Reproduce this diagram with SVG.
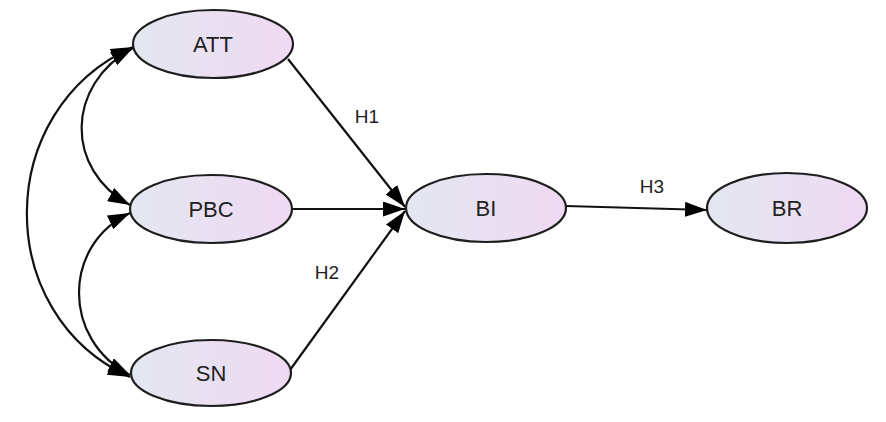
<svg xmlns="http://www.w3.org/2000/svg" width="886" height="422" viewBox="0 0 886 422">
<style>
.node ellipse{fill:url(#g);stroke:#1e1e1e;stroke-width:2.2}
.node text{font-family:"Liberation Sans",Arial,sans-serif;font-size:22px;fill:#222;text-anchor:middle;dominant-baseline:central}
.edges path{fill:none;stroke:#111;stroke-width:2.2}
.lbl{font-family:"Liberation Sans",Arial,sans-serif;font-size:19px;fill:#222;text-anchor:middle;dominant-baseline:central}
</style>
<defs>
<linearGradient id="g" x1="0" y1="0" x2="1" y2="0">
<stop offset="0" stop-color="#e3e7f0"/>
<stop offset="1" stop-color="#efd9f3"/>
</linearGradient>
<marker id="ah" viewBox="0 0 22 15" refX="22" refY="7.5" markerWidth="22" markerHeight="15" markerUnits="userSpaceOnUse" orient="auto-start-reverse">
<path d="M0,0 L22,7.5 L0,15 z" fill="#000"/>
</marker>
</defs>
<rect width="886" height="422" fill="#fff"/>
<g class="edges">
<path d="M288,59 L405,207" marker-end="url(#ah)"/>
<path d="M292,209 L405,209" marker-end="url(#ah)"/>
<path d="M290,370 L405,211" marker-end="url(#ah)"/>
<path d="M566,206 L707,210" marker-end="url(#ah)"/>
<path d="M133,48 C65,85 65,170 130,205" marker-start="url(#ah)" marker-end="url(#ah)"/>
<path d="M130,213 C62,245 62,340 130,375" marker-start="url(#ah)" marker-end="url(#ah)"/>
<path d="M133,47 C-8,110 -8,315 130,377" marker-start="url(#ah)" marker-end="url(#ah)"/>
<text class="lbl" x="367" y="116">H1</text>
<text class="lbl" x="327" y="272">H2</text>
<text class="lbl" x="652" y="186">H3</text>
</g>
<g id="ATT" class="node"><ellipse cx="213" cy="44" rx="80" ry="34"/><text x="213" y="44">ATT</text></g>
<g id="PBC" class="node"><ellipse cx="211" cy="209" rx="81" ry="34"/><text x="211" y="209">PBC</text></g>
<g id="SN" class="node"><ellipse cx="211" cy="373" rx="80" ry="33"/><text x="211" y="373">SN</text></g>
<g id="BI" class="node"><ellipse cx="486" cy="208" rx="80" ry="34"/><text x="486" y="208">BI</text></g>
<g id="BR" class="node"><ellipse cx="787" cy="208" rx="80" ry="35"/><text x="787" y="208">BR</text></g>
</svg>
